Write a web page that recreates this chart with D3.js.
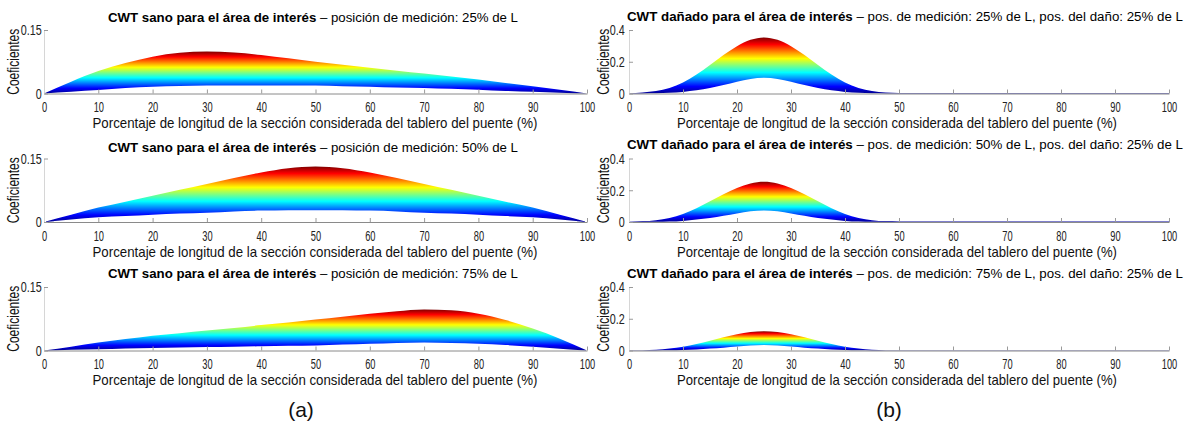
<!DOCTYPE html>
<html>
<head>
<meta charset="utf-8">
<script src="https://cdn.jsdelivr.net/npm/d3@7"></script>
<style>
  body { margin: 0; background: #fff; }
  svg text { font-family: "Liberation Sans", Arial, Helvetica, sans-serif; }
</style>
</head>
<body>
<svg id="chart" width="1193" height="426"></svg>
<script>
// ---- data -------------------------------------------------------------
// x positions (% of the deck section length)
const posSano = [0,5,10,15,20,25,30,35,40,45,50,55,60,65,70,75,80,85,90,95,100];
const posDanado = [0,2.5,5,7.5,10,12.5,15,17.5,20,22.5,25,27.5,30,32.5,35,37.5,40,42.5,45,47.5,50,
                   55,60,65,70,75,80,85,90,95,100];

// healthy structure: upper / lower envelope of the CWT coefficients
const sanoSup25 = [0,0.028,0.053,0.072,0.087,0.096,0.099,0.097,0.091,0.083,0.075,0.068,0.061,0.054,0.047,0.040,0.033,0.025,0.017,0.009,0];
const sanoInf25 = [0,0.004,0.008,0.013,0.016,0.018,0.019,0.019,0.019,0.019,0.019,0.017,0.016,0.014,0.013,0.011,0.009,0.006,0.004,0.002,0];
const sanoSup50 = [0,0.017,0.034,0.048,0.062,0.076,0.090,0.104,0.117,0.127,0.131,0.127,0.117,0.104,0.090,0.076,0.062,0.048,0.034,0.017,0];
const sanoInf50 = [0,0.006,0.011,0.014,0.017,0.020,0.022,0.025,0.027,0.028,0.028,0.028,0.027,0.025,0.022,0.020,0.017,0.014,0.011,0.006,0];
const sanoSup75 = [0,0.009,0.019,0.027,0.035,0.041,0.047,0.053,0.060,0.066,0.073,0.080,0.087,0.093,0.097,0.095,0.087,0.072,0.052,0.028,0];
const sanoInf75 = [0,0.002,0.003,0.005,0.006,0.007,0.008,0.009,0.010,0.011,0.012,0.014,0.016,0.018,0.019,0.018,0.016,0.013,0.009,0.004,0];

// damaged structure (damage at 25% of L)
const danadoSup25 = [0.002,0.006,0.015,0.035,0.070,0.120,0.180,0.243,0.298,0.338,0.353,0.338,0.298,0.243,0.180,0.120,0.070,0.035,0.015,0.006,0.003,
                     0.003,0.003,0.003,0.003,0.003,0.003,0.003,0.003,0.003,0.003];
const danadoInf25 = [0,0,0.001,0.004,0.010,0.020,0.034,0.053,0.074,0.092,0.099,0.092,0.074,0.053,0.034,0.020,0.010,0.004,0.001,0,0,
                     0,0,0,0,0,0,0,0,0,0];
const danadoSup50 = [0.001,0.004,0.011,0.025,0.050,0.086,0.130,0.175,0.214,0.243,0.254,0.243,0.214,0.175,0.130,0.086,0.050,0.025,0.011,0.004,0.003,
                     0.003,0.003,0.003,0.003,0.003,0.003,0.003,0.003,0.003,0.003];
const danadoInf50 = [0,0,0.001,0.003,0.007,0.015,0.025,0.039,0.054,0.067,0.073,0.067,0.054,0.039,0.025,0.015,0.007,0.003,0.001,0,0,
                     0,0,0,0,0,0,0,0,0,0];
const danadoSup75 = [0.001,0.002,0.005,0.012,0.024,0.041,0.062,0.084,0.103,0.116,0.121,0.116,0.103,0.084,0.062,0.041,0.024,0.012,0.005,0.002,0.002,
                     0.002,0.002,0.002,0.002,0.002,0.002,0.002,0.002,0.002,0.002];
const danadoInf75 = [0,0,0,0.001,0.003,0.007,0.012,0.018,0.025,0.031,0.034,0.031,0.025,0.018,0.012,0.007,0.003,0.001,0,0,0,
                     0,0,0,0,0,0,0,0,0,0];

// axes
const xTicks = [0,10,20,30,40,50,60,70,80,90,100];
const yTicksSano = [0, 0.15];
const yTickLabelsSano = ["0", "0.15"];
const yTicksDanado = [0, 0.2, 0.4];
const yTickLabelsDanado = ["0", "0.2", "0.4"];
const xDomain = [0, 100];
const yDomainSano = [0, 0.15];
const yDomainDanado = [0, 0.4];

// texts
const medicion = ["25% de L", "50% de L", "75% de L"];
const titleSanoBold = "CWT sano para el área de interés";
const titleDanadoBold = "CWT dañado para el área de interés";
const xLabel = "Porcentaje de longitud de la sección considerada del tablero del puente (%)";
const yLabel = "Coeficientes";
const panelTags = ["(a)", "(b)"];

// ---- layout -----------------------------------------------------------
const svg = d3.select("#chart");
const rowTop = [30, 158.5, 287];
const rowH = 63.5;

const columns = [
  { left: 44, right: 587, yDomain: yDomainSano, yTicks: yTicksSano, yLabels: yTickLabelsSano,
    pos: posSano, titleCx: 313, titleW: 410, titleDy: [-8.5, -7, -9], xLabW: 445,
    yLabX: 18.5, tagX: 301, yPad: 3,
    series: [[sanoSup25, sanoInf25], [sanoSup50, sanoInf50], [sanoSup75, sanoInf75]],
    title: (i) => [titleSanoBold, " – posición de medición: " + medicion[i]] },
  { left: 629, right: 1169, yDomain: yDomainDanado, yTicks: yTicksDanado, yLabels: yTickLabelsDanado,
    pos: posDanado, titleCx: 905, titleW: 556, titleDy: [-9.5, -9.5, -9.5], xLabW: 440,
    yLabX: 608.5, tagX: 889, yPad: 6,
    series: [[danadoSup25, danadoInf25], [danadoSup50, danadoInf50], [danadoSup75, danadoInf75]],
    title: (i) => [titleDanadoBold, " – pos. de medición: " + medicion[i] + ", pos. del daño: 25% de L"] }
];

// MATLAB "jet" colormap
const JET = [
  [0.000, "#00008f"], [0.125, "#0000ff"], [0.375, "#00ffff"],
  [0.625, "#ffff00"], [0.875, "#ff0000"], [1.000, "#800000"]
];

const defs = svg.append("defs");
let gid = 0;

columns.forEach((col, c) => {
  const x = d3.scaleLinear().domain(xDomain).range([col.left, col.right]);

  rowTop.forEach((top, r) => {
    const y = d3.scaleLinear().domain(col.yDomain).range([top + rowH, top]);
    const [sup, inf] = col.series[r];
    const data = d3.zip(col.pos, sup, inf).map(([px, s, i]) => ({ x: px, sup: s, inf: i }));
    const g = svg.append("g");

    // vertical jet gradient, normalised to this panel's maximum
    const id = "jet" + (gid++);
    const grad = defs.append("linearGradient").attr("id", id)
      .attr("gradientUnits", "userSpaceOnUse")
      .attr("x1", 0).attr("x2", 0)
      .attr("y1", y(0)).attr("y2", y(d3.max(sup)));
    grad.selectAll("stop").data(JET).join("stop")
      .attr("offset", d => d[0]).attr("stop-color", d => d[1]);

    const area = d3.area()
      .x(d => x(d.x)).y0(d => y(d.inf)).y1(d => y(d.sup))
      .curve(d3.curveMonotoneX);
    g.append("path").datum(data).attr("d", area).attr("fill", `url(#${id})`);

    // x axis with inward ticks
    const xAxis = g.append("g").attr("transform", `translate(0,${y(0)})`)
      .call(d3.axisBottom(x).tickValues(xTicks).tickSizeInner(-4).tickSizeOuter(0).tickPadding(8));
    xAxis.select(".domain").attr("stroke", "#8a8a8a");
    xAxis.selectAll(".tick line").attr("stroke", "#9a9a9a");
    xAxis.selectAll(".tick text").attr("fill", "#222").attr("font-size", 15)
      .attr("transform", "scale(0.62,1)");

    // y axis
    const yAxis = g.append("g").attr("transform", `translate(${col.left},0)`)
      .call(d3.axisLeft(y).tickValues(col.yTicks).tickSizeInner(-4).tickSizeOuter(0)
        .tickPadding(col.yPad).tickFormat((d, i) => col.yLabels[i]));
    yAxis.select(".domain").attr("stroke", "#d6d6d6");
    yAxis.selectAll(".tick line").attr("stroke", "#9a9a9a");
    yAxis.selectAll(".tick text").attr("fill", "#222").attr("font-size", 15)
      .attr("transform", "scale(0.72,1)");

    // title
    const parts = col.title(r);
    const t = g.append("text").attr("x", col.titleCx).attr("y", top + col.titleDy[r])
      .attr("text-anchor", "middle").attr("font-size", 12.5).attr("fill", "#000")
      .attr("textLength", col.titleW).attr("lengthAdjust", "spacingAndGlyphs");
    t.append("tspan").attr("font-weight", "bold").text(parts[0]);
    t.append("tspan").text(parts[1]);

    // axis labels
    g.append("text").attr("x", (col.left + col.right) / 2 + (c === 0 ? -0.5 : -2))
      .attr("y", y(0) + 34.5).attr("text-anchor", "middle").attr("font-size", 14.5)
      .attr("fill", "#111").attr("textLength", col.xLabW).attr("lengthAdjust", "spacingAndGlyphs")
      .text(xLabel);
    g.append("text")
      .attr("transform", `translate(${col.yLabX},${top + rowH / 2}) rotate(-90)`)
      .attr("text-anchor", "middle").attr("font-size", 16).attr("fill", "#111")
      .attr("textLength", 66).attr("lengthAdjust", "spacingAndGlyphs")
      .text(yLabel);
  });

  svg.append("text").attr("x", col.tagX).attr("y", 417)
    .attr("text-anchor", "middle").attr("font-size", 21).attr("fill", "#111")
    .text(panelTags[c]);
});
</script>
</body>
</html>
